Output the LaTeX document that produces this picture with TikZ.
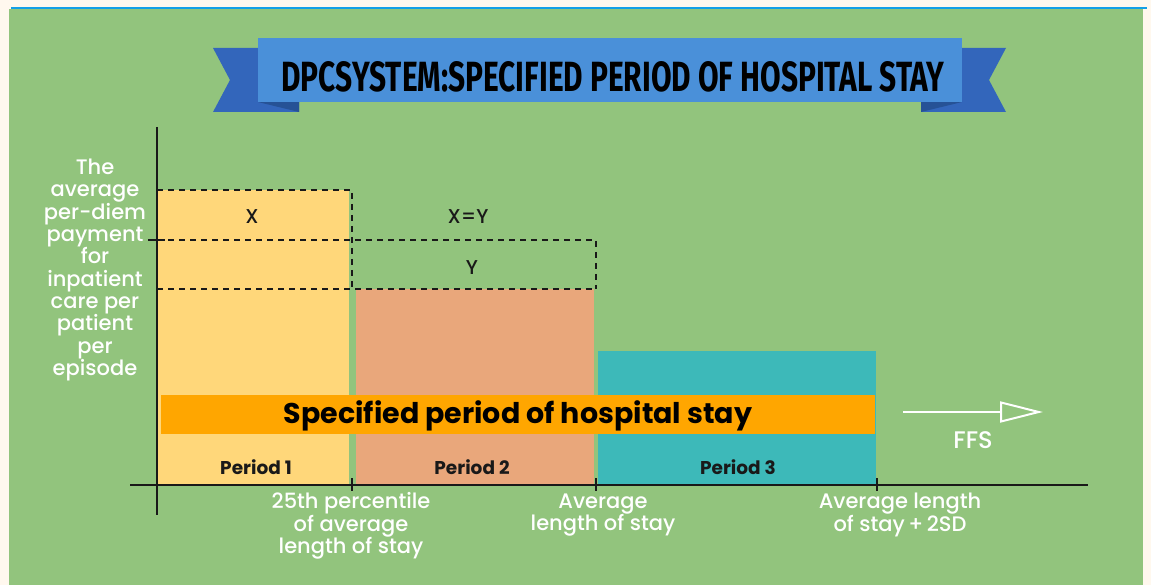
\documentclass[tikz,border=0pt]{standalone}
\usepackage{fontspec}
\usepackage{graphicx}
\setmainfont{Poppins}[UprightFont={* Medium},BoldFont={* Bold}]
\newfontfamily\titlefont{Fira Sans}
\usetikzlibrary{arrows.meta}

\definecolor{cream}{RGB}{255,248,238}
\definecolor{topline}{RGB}{20,160,230}
\definecolor{bggreen}{RGB}{146,196,125}
\definecolor{bandblue}{RGB}{74,144,217}
\definecolor{tailblue}{RGB}{51,102,187}
\definecolor{foldblue}{RGB}{38,82,150}
\definecolor{pone}{RGB}{255,215,122}
\definecolor{ptwo}{RGB}{233,167,123}
\definecolor{pthree}{RGB}{61,185,185}
\definecolor{barorange}{RGB}{255,166,0}
\definecolor{ink}{RGB}{25,25,25}

\begin{document}
\begin{tikzpicture}[x=1pt,y=-1pt,
  axisline/.style={draw=ink,line width=1.4pt},
  guide/.style={draw=ink,line width=1.2pt,dash pattern=on 6pt off 5pt},
  whitelabel/.style={text=white,align=center,inner sep=0pt,font=\fontsize{21}{22.3}\selectfont},
  barlabel/.style={text=ink,inner sep=0pt,font=\fontsize{18.5}{20}\selectfont\bfseries},
  valuelabel/.style={text=ink,inner sep=0pt,font=\fontsize{20}{20}\selectfont},
  ffsarrow/.style={draw=white,line width=2pt,-{Triangle[open,length=43pt,width=21pt,line width=2pt]}}]
\useasboundingbox (0,0) rectangle (1151,585);

% page, top rule and green panel
\fill[cream] (0,0) rectangle (1151,585);
\draw[topline,line width=2pt] (11,8) -- (1147,8);
\fill[bggreen] (9,9) rectangle (1143,585);

% title ribbon: tails, folds, band
\fill[tailblue] (213,48) -- (299,48) -- (299,112) -- (213,112) -- (230,80) -- cycle;
\fill[tailblue] (1006,48) -- (921,48) -- (921,112) -- (1006,112) -- (989,80) -- cycle;
\fill[foldblue] (258,102) -- (299,102) -- (299,112) -- cycle;
\fill[foldblue] (962,102) -- (921,102) -- (921,112) -- cycle;
\fill[bandblue] (258,38) rectangle (962,102);
\node[anchor=base,inner sep=0pt,text=black] (title) at (613,92)
  {\resizebox{663pt}{30pt}{\titlefont\bfseries DPCSYSTEM:SPECIFIED PERIOD OF HOSPITAL STAY}};

% bars
\fill[pone] (158,190) rectangle (349,485);
\fill[ptwo] (356,289) rectangle (594,485);
\fill[pthree] (598,351) rectangle (876,485);
\fill[barorange] (161,395) rectangle (875,434);

% dashed payment levels
\draw[guide] (157,190) -- (352,190) -- (352,289);
\draw[guide] (157,240) -- (596,240) -- (596,289);
\draw[guide] (157,289) -- (596,289);

% axes and ticks
\draw[axisline] (157,127) -- (157,515);
\draw[axisline] (130,485) -- (1088,485);
\draw[axisline] (148,240) -- (165,240);
\draw[axisline] (352,478) -- (352,491);
\draw[axisline] (596,478) -- (596,491);
\draw[axisline] (877,478) -- (877,491);

% labels inside the chart
\node[valuelabel] (x) at (252,217) {X};
\node[valuelabel] (xy) at (468,217) {X=Y};
\node[valuelabel] (y) at (472,268) {Y};
\node[inner sep=0pt,text=black,font=\fontsize{28.5}{30}\selectfont\bfseries] (spec) at (518,416) {Specified period of hospital stay};
\node[barlabel] (per1) at (256,467) {Period 1};
\node[barlabel] (per2) at (472,467) {Period 2};
\node[barlabel] (per3) at (738,467) {Period 3};

% axis captions
\node[whitelabel] (ylab) at (95,270) {The\\average\\per-diem\\payment\\for\\inpatient\\care per\\patient\\per\\episode};
\node[whitelabel] (q25) at (351,526) {25th percentile\\of average\\length of stay};
\node[whitelabel] (alos) at (603,515) {Average\\length of stay};
\node[whitelabel] (alos2) at (900,515) {Average length\\of stay\,+\,2SD};

% fee-for-service beyond the specified period
\coordinate (ffsstart) at (903,412);
\coordinate (ffsend) at (1043,412);
\draw[ffsarrow] (ffsstart) -- (ffsend);
\node[whitelabel,font=\fontsize{24}{26}\selectfont] (ffs) at (973,440) {FFS};
\end{tikzpicture}
\end{document}
